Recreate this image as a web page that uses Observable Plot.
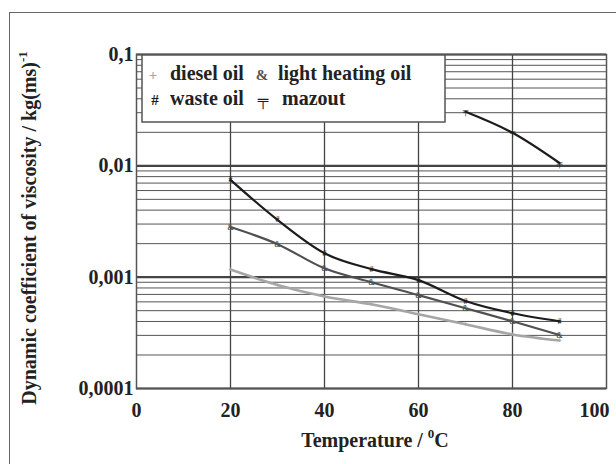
<!DOCTYPE html>
<html>
<head>
<meta charset="utf-8">
<script src="https://cdn.jsdelivr.net/npm/d3@7"></script>
<script src="https://cdn.jsdelivr.net/npm/@observablehq/plot@0.6"></script>
<style>
  html, body { margin: 0; padding: 0; background: #fff; overflow: hidden; }
  #wrap { position: relative; width: 616px; height: 464px; }
  #border { position: absolute; left: 9px; top: 12px; width: 700px; height: 600px; border: 1px solid #666; pointer-events: none; }
</style>
</head>
<body>
<div id="wrap"><div id="border"></div></div>
<script>
// Data
const temperatures = [20, 30, 40, 50, 60, 70, 80, 90];
const dieselOil = [0.00117, 0.00085, 0.00067, 0.00057, 0.000464, 0.000377, 0.000306, 0.00027];
const lightHeatingOil = [0.00282, 0.00198, 0.0012, 0.0009, 0.00069, 0.000526, 0.000402, 0.000302];
const wasteOil = [0.00748, 0.00327, 0.00164, 0.00118, 0.00094, 0.00061, 0.000474, 0.000402];
const mazoutTemps = [70, 80, 90];
const mazout = [0.0306, 0.0198, 0.0106];

const seriesNames = ["diesel oil", "light heating oil", "waste oil", "mazout"];
const seriesGlyphs = ["+", "&", "#", "╤"];
const seriesColors = ["#a6a6a6", "#505050", "#1c1c1c", "#1c1c1c"];

const xTicks = [0, 20, 40, 60, 80, 100];
const yTicks = [0.0001, 0.001, 0.01, 0.1];
const yTickLabels = ["0,0001", "0,001", "0,01", "0,1"];

const toRows = (xs, ys, s) => xs.map((t, i) => ({t, v: ys[i], s}));
const rows = [
  ...toRows(temperatures, dieselOil, 0),
  ...toRows(temperatures, lightHeatingOil, 1),
  ...toRows(temperatures, wasteOil, 2),
  ...toRows(mazoutTemps, mazout, 3)
];

const minorGrid = [];
for (let e = -4; e < -1; e++) for (let m = 2; m <= 9; m++) minorGrid.push(m * Math.pow(10, e));

const font = "'Liberation Serif', 'Times New Roman', serif";
const fs = 20;

const lineMarks = [0, 1, 2, 3].map(s => Plot.line(rows.filter(r => r.s === s), {
  x: "t", y: "v", stroke: seriesColors[s], strokeWidth: s === 0 ? 2.6 : 2.2, curve: "monotone-x"
}));
const glyphMarks = [0, 1, 2, 3].map(s => Plot.text(rows.filter(r => r.s === s), {
  x: "t", y: "v", text: () => seriesGlyphs[s], fill: seriesColors[s], fontSize: 8, fontWeight: "bold"
}));

const chart = Plot.plot({
  width: 616,
  height: 464,
  marginLeft: 136,
  marginRight: 10,
  marginTop: 54,
  marginBottom: 76,
  style: { fontFamily: font, fontSize: fs + "px", fontWeight: "bold", color: "#222", background: "transparent" },
  x: { domain: [0, 100] },
  y: { type: "log", domain: [0.0001, 0.1] },
  marks: [
    Plot.ruleY(minorGrid, { stroke: "#555", strokeWidth: 1 }),
    Plot.ruleY(yTicks, { stroke: "#444", strokeWidth: 2.2 }),
    Plot.ruleX([20, 40, 60, 80], { stroke: "#444", strokeWidth: 1.3 }),
    ...lineMarks,
    ...glyphMarks,
    Plot.frame({ stroke: "#555", strokeWidth: 1.5 }),
    Plot.axisX({ ticks: xTicks, tickSize: 0, tickPadding: 14, label: null, fontSize: fs }),
    Plot.axisY({ ticks: yTicks, tickSize: 0, tickPadding: 3, label: null, fontSize: fs,
      tickFormat: d => yTickLabels[yTicks.indexOf(d)] })
  ]
});

document.getElementById("wrap").appendChild(chart);
chart.style.position = "absolute";
chart.style.left = "0px";
chart.style.top = "0px";

const svg = d3.select(chart);

// keep the last x tick label inside the picture, as in the reference
svg.selectAll("text").filter(function() { return this.textContent === "100"; })
  .attr("text-anchor", "end").attr("dx", 3);

// Legend box
const lg = svg.append("g").attr("font-family", font).attr("font-weight", "bold").attr("font-size", fs)
  .attr("fill", "#222").attr("text-anchor", "start");
lg.append("rect").attr("x", 142).attr("y", 55).attr("width", 303).attr("height", 67)
  .attr("fill", "#fff").attr("stroke", "#555").attr("stroke-width", 1.5);
const legendItems = [
  { g: 0, gx: 153, tx: 170, y: 80 },
  { g: 1, gx: 262, tx: 278, y: 80 },
  { g: 2, gx: 155, tx: 170, y: 105 },
  { g: 3, gx: 263, tx: 282, y: 105 }
];
legendItems.forEach(it => {
  lg.append("text").attr("x", it.gx).attr("y", it.y).attr("text-anchor", "middle")
    .attr("fill", seriesColors[it.g]).attr("font-size", 15).text(seriesGlyphs[it.g]);
  lg.append("text").attr("x", it.tx).attr("y", it.y).attr("text-anchor", "start").text(seriesNames[it.g]);
});

// Axis titles
const yl = svg.append("text").attr("font-family", font).attr("font-weight", "bold").attr("font-size", fs)
  .attr("fill", "#222").attr("text-anchor", "middle")
  .attr("transform", "translate(36,228) rotate(-90)");
yl.append("tspan").text("Dynamic coefficient of viscosity / kg(ms)");
yl.append("tspan").attr("font-size", 13).attr("dy", -9).text("-1");

const xl = svg.append("text").attr("font-family", font).attr("font-weight", "bold").attr("font-size", fs)
  .attr("fill", "#222").attr("text-anchor", "middle").attr("x", 375).attr("y", 447);
xl.append("tspan").text("Temperature / ");
xl.append("tspan").attr("font-size", 13).attr("dy", -9).text("0");
xl.append("tspan").attr("dy", 9).text("C");
</script>
</body>
</html>
